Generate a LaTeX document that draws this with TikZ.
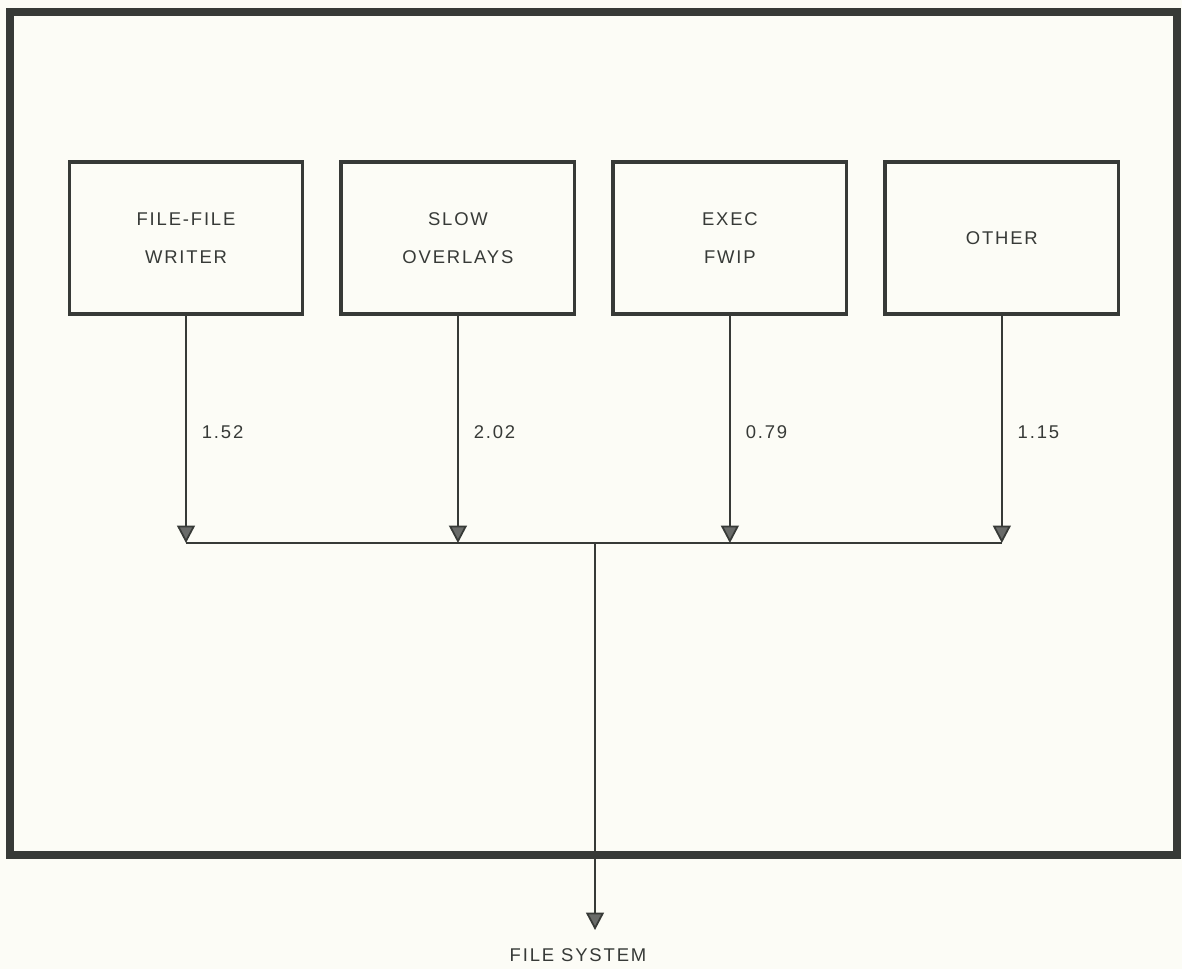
\documentclass[tikz,border=0pt]{standalone}
\usepackage{fontspec}
\newfontfamily\diafont[LetterSpace=10]{Liberation Sans}
\usetikzlibrary{arrows.meta,positioning}
\definecolor{ink}{RGB}{55,58,55}
\definecolor{paper}{RGB}{252,252,246}

\begin{document}
\begin{tikzpicture}[
    x=0.02cm, y=-0.02cm,
    node distance=0.70cm,
    box/.style={draw=ink, line width=0.07cm, minimum width=4.67cm, minimum height=3.05cm,
        align=center, text=ink, font=\diafont\fontsize{10.5}{21.5}\selectfont},
    val/.style={text=ink, font=\diafont\fontsize{10.5}{12}\selectfont, anchor=west,
        inner sep=0pt, xshift=0.3cm},
    arr/.style={-{Triangle[length=3.5mm, width=3.6mm, fill=ink!75]}, draw=ink, line width=1pt}
    ]
    \fill[paper] (0,0) rectangle (1182,969);
    \useasboundingbox (0,0) rectangle (1182,969);
    \draw[ink, line width=0.16cm] (10,12) rectangle (1177,855);

    \node[box] (ffw) at (186,238) {FILE-FILE\\WRITER};
    \node[box, right=of ffw] (slo) {SLOW\\OVERLAYS};
    \node[box, right=of slo] (exe) {EXEC\\FWIP};
    \node[box, right=of exe] (oth) {OTHER};

    \coordinate (bus)  at (0,543);
    \coordinate (join) at (595,543);
    \coordinate (sink) at (595,930);
    \node[text=ink, font=\diafont\fontsize{10.5}{12}\selectfont] (fs) at (578,955) {FILE SYSTEM};

    \draw[arr] (ffw) -- node[val, pos=0.51] {1.52} (ffw |- bus);
    \draw[arr] (slo) -- node[val, pos=0.51] {2.02} (slo |- bus);
    \draw[arr] (exe) -- node[val, pos=0.51] {0.79} (exe |- bus);
    \draw[arr] (oth) -- node[val, pos=0.51] {1.15} (oth |- bus);
    \draw[ink, line width=1pt] (ffw |- bus) -- (oth |- bus);
    \draw[arr] (join) -- (sink);
\end{tikzpicture}
\end{document}
